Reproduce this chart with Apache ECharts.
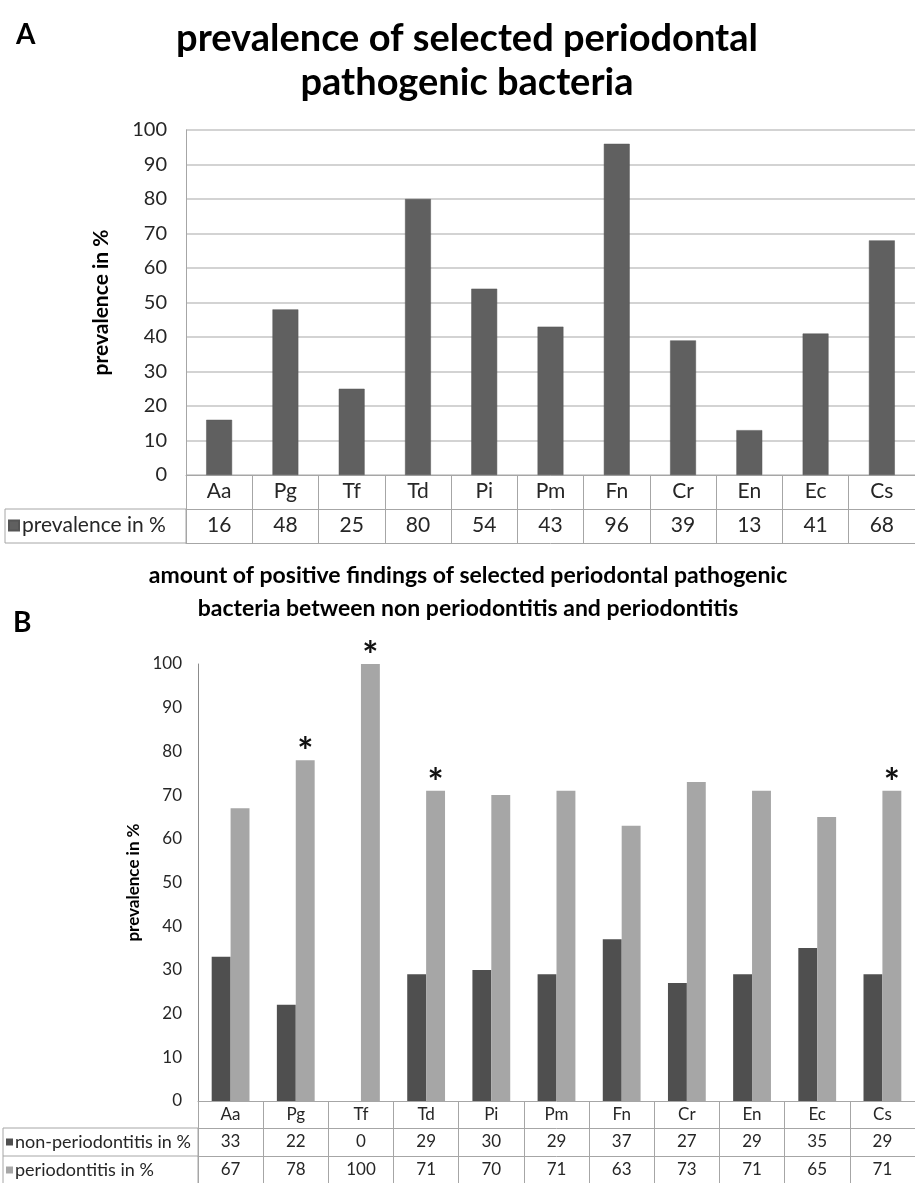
<!DOCTYPE html>
<html>
<head>
<meta charset="utf-8">
<script src="https://cdn.jsdelivr.net/npm/echarts@6/dist/echarts.min.js"></script>
<style>
html,body{margin:0;padding:0;background:#fff;}
#c{width:915px;height:1183px;}
</style>
</head>
<body>
<div id="c"></div>
<script>
// ---- data ----
var categories = ['Aa','Pg','Tf','Td','Pi','Pm','Fn','Cr','En','Ec','Cs'];
var prevalence = [16,48,25,80,54,43,96,39,13,41,68];
var nonPerio = [33,22,0,29,30,29,37,27,29,35,29];
var perio = [67,78,100,71,70,71,63,73,71,65,71];
var significance = ['','*','*','*','','','','','','','*'];
var yTicks = [0,100,10]; // min, max, interval

var titleA = 'prevalence of selected periodontal\npathogenic bacteria';
var titleB = 'amount of positive findings of selected periodontal pathogenic\nbacteria between non periodontitis and periodontitis';
var nameA = 'prevalence in %';
var nameNon = 'non-periodontitis in %';
var namePer = 'periodontitis in %';

// ---- layout ----
var FONT = 'Lato, "Liberation Sans", sans-serif';
var LINE = '#a6a6a6';
var gA = {left:186, top:130, width:740, height:345};
var rowA = 34;
var gB = {left:198, top:664, width:723, height:437};
var rowB = [27, 28, 28];

var chart = echarts.init(document.getElementById('c'), null, {renderer:'canvas'});

function tableAxis(grid, offset, formatter, fs, showLine, tickLen, margin){
  return {
    type:'category', gridIndex:grid, data:categories, position:'bottom', offset:offset,
    axisLine:{show:showLine, lineStyle:{color:LINE, width:1}},
    axisTick:{show:tickLen>0, length:tickLen, interval:0, lineStyle:{color:LINE, width:1}},
    axisLabel:{show:!!formatter, formatter:formatter, fontFamily:FONT, fontSize:fs, color:'#262626', margin:margin, interval:0},
    splitLine:{show:false}
  };
}

var option = {
  animation:false,
  backgroundColor:'#ffffff',
  title:[
    {text:'A', left:11, top:16, textStyle:{fontFamily:FONT, fontSize:28, fontWeight:'bold', color:'#000'}},
    {text:titleA, left:462, top:12, textAlign:'center', textStyle:{fontFamily:FONT, fontSize:38, fontWeight:'bold', color:'#000', lineHeight:44}},
    {text:'B', left:8, top:604, textStyle:{fontFamily:FONT, fontSize:28, fontWeight:'bold', color:'#000'}},
    {text:titleB, left:463, top:554, textAlign:'center', textStyle:{fontFamily:FONT, fontSize:23, fontWeight:'bold', color:'#000', lineHeight:33}}
  ],
  legend:[
    {data:[nameA], left:8, top:515, orient:'vertical', padding:0, icon:'rect', itemWidth:10, itemHeight:10, itemGap:4,
      textStyle:{fontFamily:FONT, fontSize:21, color:'#262626', padding:[0,0,0,-2]}},
    {data:[nameNon, namePer], left:6, top:1132, orient:'vertical', padding:0, icon:'rect', itemWidth:7, itemHeight:7, itemGap:8,
      textStyle:{fontFamily:FONT, fontSize:18, color:'#262626', lineHeight:20, padding:[0,0,0,-3]}}
  ],
  grid:[
    {left:gA.left, top:gA.top, width:gA.width, height:gA.height},
    {left:gB.left, top:gB.top, width:gB.width, height:gB.height}
  ],
  xAxis:[
    tableAxis(0, 0, function(v){return v;}, 21, true, rowA*2, 6),
    tableAxis(0, rowA, function(v,i){return prevalence[i];}, 21, true, 0, 6),
    tableAxis(0, rowA*2, null, 21, true, 0, 6),
    tableAxis(1, 0, function(v){return v;}, 17, true, rowB[0]+rowB[1]+rowB[2], 5),
    tableAxis(1, rowB[0], function(v,i){return nonPerio[i];}, 17, true, 0, 5),
    tableAxis(1, rowB[0]+rowB[1], function(v,i){return perio[i];}, 17, true, 0, 5),
    tableAxis(1, rowB[0]+rowB[1]+rowB[2], null, 17, true, 0, 5)
  ],
  yAxis:[
    {type:'value', gridIndex:0, min:yTicks[0], max:yTicks[1], interval:yTicks[2],
      name:nameA, nameLocation:'middle', nameGap:74,
      nameTextStyle:{fontFamily:FONT, fontSize:21, fontWeight:'bold', color:'#000'},
      axisLine:{show:true, lineStyle:{color:LINE, width:1}},
      axisTick:{show:false},
      axisLabel:{fontFamily:FONT, fontSize:20, color:'#262626', margin:19},
      splitLine:{show:true, lineStyle:{color:'#c4c4c4', width:1.5}}},
    {type:'value', gridIndex:1, min:yTicks[0], max:yTicks[1], interval:yTicks[2],
      name:nameA, nameLocation:'middle', nameGap:53,
      nameTextStyle:{fontFamily:FONT, fontSize:17, fontWeight:'bold', color:'#000'},
      axisLine:{show:true, lineStyle:{color:'#8c8c8c', width:1}},
      axisTick:{show:false},
      axisLabel:{fontFamily:FONT, fontSize:17, color:'#262626', margin:16},
      splitLine:{show:false}}
  ],
  series:[
    {name:nameA, type:'bar', xAxisIndex:0, yAxisIndex:0, data:prevalence,
      barCategoryGap:'61%', itemStyle:{color:'#606060', borderColor:'#555', borderWidth:0.5}},
    {name:nameNon, type:'bar', xAxisIndex:3, yAxisIndex:1, data:nonPerio,
      barGap:'0%', barCategoryGap:'42%', itemStyle:{color:'#4f4f4f'}},
    {name:namePer, type:'bar', xAxisIndex:3, yAxisIndex:1, data:perio,
      barGap:'0%', barCategoryGap:'42%', itemStyle:{color:'#a6a6a6'},
      label:{show:true, position:'top', distance:1, offset:[0,13],
        formatter:function(p){return significance[p.dataIndex];},
        fontFamily:FONT, fontSize:38, fontWeight:'bold', color:'#111'}}
  ],
  graphic:[
    {type:'rect', silent:true, shape:{x:5, y:gA.top+gA.height+rowA, width:gA.left-5, height:rowA},
      style:{fill:null, stroke:LINE, lineWidth:1}},
    {type:'rect', silent:true, shape:{x:3, y:gB.top+gB.height+rowB[0], width:gB.left-3, height:rowB[1]+rowB[2]},
      style:{fill:null, stroke:LINE, lineWidth:1}},
    {type:'line', silent:true, shape:{x1:3, y1:gB.top+gB.height+rowB[0]+rowB[1], x2:gB.left, y2:gB.top+gB.height+rowB[0]+rowB[1]},
      style:{stroke:LINE, lineWidth:1}}
  ]
};
chart.setOption(option);
</script>
</body>
</html>
